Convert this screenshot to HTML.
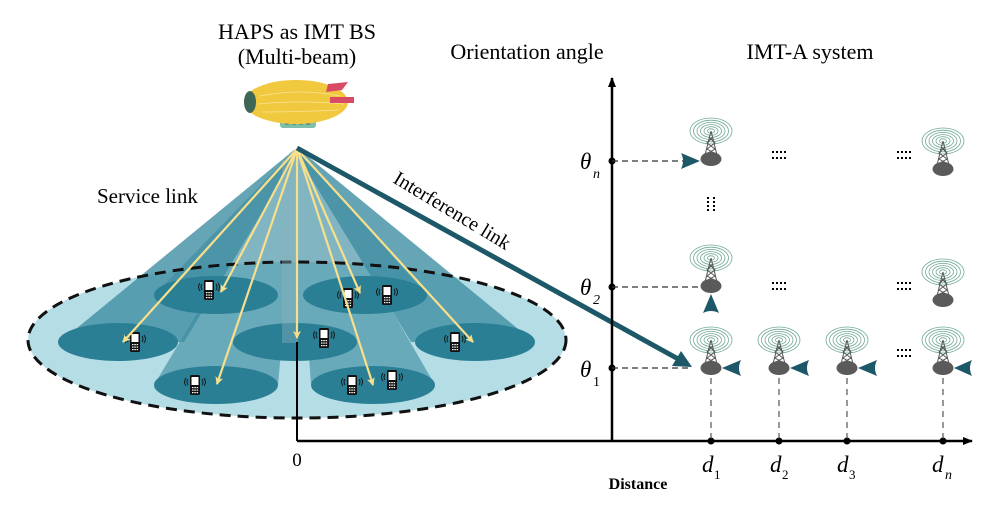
<!DOCTYPE html>
<html><head><meta charset="utf-8"><style>
html,body{margin:0;padding:0;background:#fff;}
svg{display:block;}
text{font-family:"Liberation Serif",serif;fill:#000;}
</style></head><body>
<svg width="994" height="513" viewBox="0 0 994 513" xmlns="http://www.w3.org/2000/svg">
<defs>
<symbol id="ph" viewBox="-12 -11 24 22" overflow="visible">
  <rect x="-5" y="-10" width="10" height="20" rx="1.5" fill="#111"/>
  <rect x="-3.5" y="-8" width="7" height="8" fill="#fff"/>
  <g fill="#fff"><rect x="-3" y="2" width="1.5" height="1.2"/><rect x="-0.7" y="2" width="1.5" height="1.2"/><rect x="1.6" y="2" width="1.5" height="1.2"/>
  <rect x="-3" y="4.5" width="1.5" height="1.2"/><rect x="-0.7" y="4.5" width="1.5" height="1.2"/><rect x="1.6" y="4.5" width="1.5" height="1.2"/>
  <rect x="-3" y="7" width="1.5" height="1.2"/><rect x="-0.7" y="7" width="1.5" height="1.2"/><rect x="1.6" y="7" width="1.5" height="1.2"/></g>
  <path d="M-7,-6 Q-9,-3 -7,0 M-9,-7 Q-12,-3 -9,1 M7,-6 Q9,-3 7,0 M9,-7 Q12,-3 9,1" stroke="#111" stroke-width="0.9" fill="none"/>
</symbol>
<symbol id="tw" viewBox="-22 -30 44 38" overflow="visible">
  <g fill="none" stroke="#6fa892" stroke-width="0.8">
    <ellipse cx="0" cy="-28" rx="21" ry="13"/><ellipse cx="0" cy="-28" rx="17.5" ry="10.8"/><ellipse cx="0" cy="-28" rx="14" ry="8.6"/>
    <ellipse cx="0" cy="-28" rx="10.5" ry="6.4"/><ellipse cx="0" cy="-28" rx="7" ry="4.3"/><ellipse cx="0" cy="-28" rx="3.5" ry="2.2"/>
  </g>
  <g stroke="#555" stroke-width="1" fill="none">
    <path d="M0,-28 L-6,-4 M0,-28 L6,-4 M-2,-22 L4,-16 L-4,-10 L5,-5 M2,-22 L-4,-16 L4,-10 L-5,-5"/>
  </g>
  <ellipse cx="0" cy="0" rx="10.5" ry="7" fill="#5a5a5a"/>
</symbol>
<marker id="ya" markerWidth="8" markerHeight="8" refX="7" refY="4" orient="auto" markerUnits="userSpaceOnUse">
  <path d="M0,0 L8,4 L0,8 L2,4 Z" fill="#f8df8c"/></marker>
<marker id="ka" markerWidth="10" markerHeight="8" refX="9" refY="4" orient="auto" markerUnits="userSpaceOnUse">
  <path d="M0,0 L10,4 L0,8 Z" fill="#000"/></marker>
</defs>

<!-- titles -->
<text x="297" y="39" font-size="22" text-anchor="middle">HAPS as IMT BS</text>
<text x="297" y="64" font-size="22" text-anchor="middle">(Multi-beam)</text>
<text x="527" y="59" font-size="22" text-anchor="middle">Orientation angle</text>
<text x="810" y="59" font-size="22" text-anchor="middle">IMT-A system</text>
<text x="97" y="203" font-size="21">Service link</text>
<text x="392" y="182" font-size="20" transform="rotate(31 392 182)">Interference link</text>

<!-- airship -->
<rect x="280" y="116" width="36" height="12" rx="3" fill="#7fbfaa"/>
<path d="M285,124 h4 M292,124 h4 M299,124 h4 M306,124 h4" stroke="#3d6e62" stroke-width="1"/>
<ellipse cx="296" cy="102" rx="52" ry="22" fill="#f0c93f"/>
<ellipse cx="250" cy="102" rx="6" ry="11" fill="#3d6657"/>
<path d="M260,96 Q300,88 340,96 M258,104 Q300,100 344,104 M262,112 Q300,112 338,110" stroke="#f7e59a" stroke-width="0.8" fill="none"/>
<path d="M328,84 L348,82 L342,90 L326,92Z" fill="#d94a64"/>
<rect x="330" y="97" width="24" height="6" fill="#d94a64"/>

<!-- ground -->
<ellipse cx="297" cy="340" rx="269" ry="78" fill="#b5dde6"/>
<g fill="#3f8ea3" opacity="0.8">
  <polygon points="294,150 300,150 184,342 60,342"/>
  <polygon points="294,150 300,150 534,342 411,342"/>
</g>
<g fill="#3f8ea3" opacity="0.65">
  <polygon points="295,150 299,150 278,295 154,295"/>
  <polygon points="295,150 299,150 427,295 303,295"/>
  <polygon points="295,150 299,150 278,385 154,385"/>
  <polygon points="295,150 299,150 435,385 311,385"/>
  <polygon points="295,150 299,150 357,342 233,342"/>
</g>
<ellipse cx="297" cy="340" rx="269" ry="78" fill="none" stroke="#111" stroke-width="3" stroke-dasharray="11,7"/>
<g fill="#2a7f94">
  <ellipse cx="216" cy="295" rx="62" ry="19"/>
  <ellipse cx="365" cy="295" rx="62" ry="19"/>
  <ellipse cx="118" cy="342" rx="60" ry="19"/>
  <ellipse cx="295" cy="342" rx="62" ry="19"/>
  <ellipse cx="475" cy="342" rx="60" ry="19"/>
  <ellipse cx="216" cy="385" rx="62" ry="19"/>
  <ellipse cx="373" cy="385" rx="62" ry="19"/>
</g>
<rect x="282" y="160" width="16" height="183" fill="#8ab4bd" opacity="0.4"/>

<!-- phones -->
<g>
<use href="#ph" x="197" y="279" width="24" height="22"/>
<use href="#ph" x="336" y="287" width="24" height="22"/>
<use href="#ph" x="375" y="284" width="24" height="22"/>
<use href="#ph" x="123" y="331" width="24" height="22"/>
<use href="#ph" x="312" y="327" width="24" height="22"/>
<use href="#ph" x="443" y="331" width="24" height="22"/>
<use href="#ph" x="183" y="374" width="24" height="22"/>
<use href="#ph" x="340" y="374" width="24" height="22"/>
<use href="#ph" x="380" y="369" width="24" height="22"/>
</g>

<!-- yellow arrows -->
<g stroke="#f8df8c" stroke-width="2.2" marker-end="url(#ya)">
  <line x1="297" y1="149" x2="123" y2="342"/>
  <line x1="297" y1="149" x2="221" y2="292"/>
  <line x1="297" y1="149" x2="217" y2="384"/>
  <line x1="297" y1="149" x2="297" y2="338"/>
  <line x1="297" y1="149" x2="360" y2="293"/>
  <line x1="297" y1="149" x2="373" y2="385"/>
  <line x1="297" y1="149" x2="473" y2="342"/>
</g>

<!-- interference link -->
<line x1="297" y1="148" x2="680" y2="360" stroke="#1d5868" stroke-width="5"/>
<path d="M692,367 L672,366 L681,351 Z" fill="#1d5868"/>

<!-- axes -->
<line x1="297" y1="342" x2="297" y2="441" stroke="#000" stroke-width="2"/>
<line x1="297" y1="441" x2="972" y2="441" stroke="#000" stroke-width="2.5" marker-end="url(#ka)"/>
<line x1="612" y1="441" x2="612" y2="78" stroke="#000" stroke-width="2.5" marker-end="url(#ka)"/>
<text x="297" y="466" font-size="19" text-anchor="middle">0</text>
<text x="638" y="489" font-size="16" font-weight="bold" text-anchor="middle">Distance</text>

<g fill="#000">
  <circle cx="612" cy="161" r="3.5"/><circle cx="612" cy="287" r="3.5"/><circle cx="612" cy="368" r="3.5"/>
  <circle cx="711" cy="441" r="3.5"/><circle cx="779" cy="441" r="3.5"/><circle cx="847" cy="441" r="3.5"/><circle cx="943" cy="441" r="3.5"/>
</g>
<g stroke="#333" stroke-width="1.3" stroke-dasharray="6,4">
  <line x1="612" y1="161" x2="690" y2="161"/>
  <line x1="612" y1="287" x2="700" y2="287"/>
  <line x1="612" y1="368" x2="690" y2="368"/>
</g>
<g stroke="#333" stroke-width="1" stroke-dasharray="6,5">
  <line x1="711" y1="378" x2="711" y2="441"/><line x1="779" y1="378" x2="779" y2="441"/>
  <line x1="847" y1="378" x2="847" y2="441"/><line x1="943" y1="378" x2="943" y2="441"/>
</g>

<g font-style="italic">
<text x="580" y="169" font-size="23">θ</text><text x="593" y="178" font-size="14">n</text>
<text x="580" y="295" font-size="23">θ</text><text x="593" y="304" font-size="14">2</text>
<text x="580" y="377" font-size="23">θ</text><text x="593" y="386" font-size="14" font-style="normal">1</text>
<text x="702" y="472" font-size="23">d</text><text x="714" y="479" font-size="13" font-style="normal">1</text>
<text x="770" y="472" font-size="23">d</text><text x="782" y="479" font-size="13" font-style="normal">2</text>
<text x="837" y="472" font-size="23">d</text><text x="849" y="479" font-size="13" font-style="normal">3</text>
<text x="932" y="472" font-size="23">d</text><text x="945" y="479" font-size="14">n</text>
</g>

<!-- towers -->
<use href="#tw" x="689" y="129" width="44" height="38"/>
<use href="#tw" x="921" y="139" width="44" height="38"/>
<use href="#tw" x="689" y="256" width="44" height="38"/>
<use href="#tw" x="921" y="270" width="44" height="38"/>
<use href="#tw" x="689" y="338" width="44" height="38"/>
<use href="#tw" x="757" y="338" width="44" height="38"/>
<use href="#tw" x="825" y="338" width="44" height="38"/>
<use href="#tw" x="921" y="338" width="44" height="38"/>

<g fill="#1d5868">
  <path d="M681,153 L700,161 L681,169 Q685,161 681,153Z"/>
  <path d="M711,294 L703,313 Q711,309 719,313Z"/>
  <path d="M722,368 L741,360 Q737,368 741,376Z"/>
  <path d="M790,368 L809,360 Q805,368 809,376Z"/>
  <path d="M858,368 L877,360 Q873,368 877,376Z"/>
  <path d="M954,368 L972,360 Q968,368 972,376Z"/>
</g>

<!-- dots -->
<g fill="#000">
  <g transform="translate(772,151)"><rect x="0" y="0" width="2" height="2"/><rect x="4" y="0" width="2" height="2"/><rect x="8" y="0" width="2" height="2"/><rect x="12" y="0" width="2" height="2"/><rect x="0" y="6" width="2" height="2"/><rect x="4" y="6" width="2" height="2"/><rect x="8" y="6" width="2" height="2"/><rect x="12" y="6" width="2" height="2"/></g>
  <g transform="translate(897,151)"><rect x="0" y="0" width="2" height="2"/><rect x="4" y="0" width="2" height="2"/><rect x="8" y="0" width="2" height="2"/><rect x="12" y="0" width="2" height="2"/><rect x="0" y="6" width="2" height="2"/><rect x="4" y="6" width="2" height="2"/><rect x="8" y="6" width="2" height="2"/><rect x="12" y="6" width="2" height="2"/></g>
  <g transform="translate(772,282)"><rect x="0" y="0" width="2" height="2"/><rect x="4" y="0" width="2" height="2"/><rect x="8" y="0" width="2" height="2"/><rect x="12" y="0" width="2" height="2"/><rect x="0" y="6" width="2" height="2"/><rect x="4" y="6" width="2" height="2"/><rect x="8" y="6" width="2" height="2"/><rect x="12" y="6" width="2" height="2"/></g>
  <g transform="translate(897,282)"><rect x="0" y="0" width="2" height="2"/><rect x="4" y="0" width="2" height="2"/><rect x="8" y="0" width="2" height="2"/><rect x="12" y="0" width="2" height="2"/><rect x="0" y="6" width="2" height="2"/><rect x="4" y="6" width="2" height="2"/><rect x="8" y="6" width="2" height="2"/><rect x="12" y="6" width="2" height="2"/></g>
  <g transform="translate(897,349)"><rect x="0" y="0" width="2" height="2"/><rect x="4" y="0" width="2" height="2"/><rect x="8" y="0" width="2" height="2"/><rect x="12" y="0" width="2" height="2"/><rect x="0" y="6" width="2" height="2"/><rect x="4" y="6" width="2" height="2"/><rect x="8" y="6" width="2" height="2"/><rect x="12" y="6" width="2" height="2"/></g>
  <g transform="translate(707,197)"><rect x="0" y="0" width="2" height="2"/><rect x="6" y="0" width="2" height="2"/><rect x="0" y="4" width="2" height="2"/><rect x="6" y="4" width="2" height="2"/><rect x="0" y="8" width="2" height="2"/><rect x="6" y="8" width="2" height="2"/><rect x="0" y="12" width="2" height="2"/><rect x="6" y="12" width="2" height="2"/></g>
</g>
</svg>
</body></html>
